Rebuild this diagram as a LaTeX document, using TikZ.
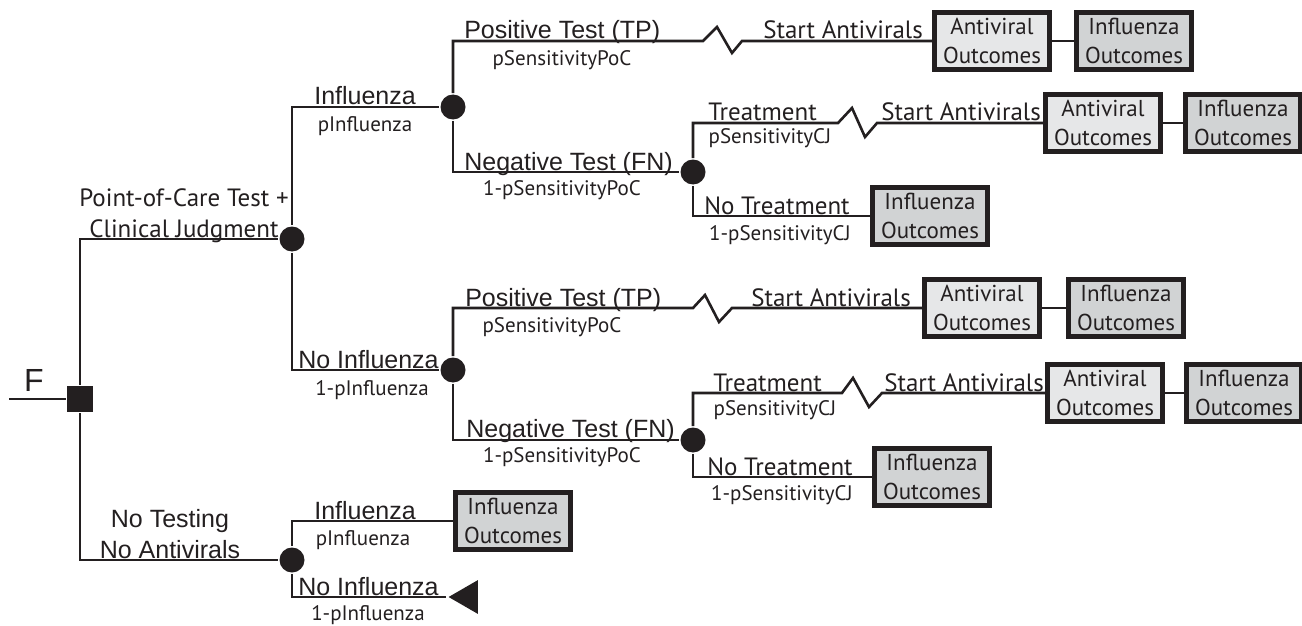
\documentclass[tikz,border=0pt]{standalone}
\usepackage{fontspec}
\setmainfont{PT Sans}
\newfontfamily\arialfont{Liberation Sans}
\usetikzlibrary{shapes.geometric}
\definecolor{ink}{HTML}{231F20}
\definecolor{avfill}{HTML}{E6E7E8}
\definecolor{flufill}{HTML}{D1D3D4}
\newcommand\dotsize{25pt}

\begin{document}
\begin{tikzpicture}[x=1pt,y=-1pt,line width=2.6pt,color=ink,
    chance/.style={circle,fill=ink,inner sep=0pt,minimum size=\dotsize},
    decnode/.style={rectangle,fill=ink,inner sep=0pt,minimum size=26pt},
    endtri/.style={regular polygon,regular polygon sides=3,regular polygon rotate=90,
      fill=ink,inner sep=0pt,minimum size=39pt,anchor=corner 1},
    avbox/.style={draw,line width=5pt,fill=avfill,minimum width=115pt,minimum height=57pt,
      inner sep=0pt,align=center,font=\fontsize{23}{29}\selectfont},
    flubox/.style={avbox,fill=flufill},
    arm/.style={anchor=base west,inner sep=0pt,font=\arialfont\fontsize{25}{31}\selectfont},
    act/.style={anchor=base west,inner sep=0pt,font=\fontsize{25}{31}\selectfont},
    prob/.style={inner sep=0pt,font=\fontsize{21}{25}\selectfont}]
  \useasboundingbox (0,0) rectangle (1302,626);

  % decision and chance nodes
  \coordinate (in) at (9,399);
  \node (D) at (80,399) [decnode] {}; % decision
  \node (C1) at (292,239) [chance] {}; % test + judgment
  \node (C2) at (453,107) [chance] {}; % influenza
  \node (C3) at (693,172) [chance] {}; % negative test
  \node (C4) at (453,370) [chance] {}; % no influenza
  \node (C5) at (693,440) [chance] {}; % negative test
  \node (C6) at (292,560) [chance] {}; % no testing
  \node (T) at (446,597) [endtri] {};

  % outcome boxes
  \node (A1) at (992,41) [avbox] {Antiviral\\Outcomes};
  \node (I1) at (1134,41) [flubox] {Influenza\\Outcomes};
  \node (A2) at (1103,123) [avbox] {Antiviral\\Outcomes};
  \node (I2) at (1243,123) [flubox] {Influenza\\Outcomes};
  \node (N1) at (930,216) [flubox] {Influenza\\Outcomes};
  \node (A3) at (982,308) [avbox] {Antiviral\\Outcomes};
  \node (I3) at (1126,308) [flubox] {Influenza\\Outcomes};
  \node (A4) at (1105,393) [avbox] {Antiviral\\Outcomes};
  \node (I4) at (1244,393) [flubox] {Influenza\\Outcomes};
  \node (N2) at (932,477) [flubox] {Influenza\\Outcomes};
  \node (N3) at (513,521) [flubox] {Influenza\\Outcomes};

  % zigzag starts
  \coordinate (z1) at (703,41);
  \coordinate (z2) at (838,123);
  \coordinate (z3) at (693,308);
  \coordinate (z4) at (842,393);

  % branches
  \draw (in) -- (D);
  \draw (D) |- (C1);
  \draw (D) |- (C6);
  \draw (C1) |- (C2);
  \draw (C1) |- (C4);
  \draw (C2) |- (z1) -- ++(14,-14) -- ++(15,26) -- ++(10,-12) -- (A1);
  \draw (A1) -- (I1);
  \draw (C2) |- (C3);
  \draw (C3) |- (z2) -- ++(14,-15) -- ++(13,29) -- ++(12,-14) -- (A2);
  \draw (A2) -- (I2);
  \draw (C3) |- (N1);
  \draw (C4) |- (z3) -- ++(12,-13) -- ++(14,27) -- ++(13,-14) -- (A3);
  \draw (A3) -- (I3);
  \draw (C4) |- (C5);
  \draw (C5) |- (z4) -- ++(11,-15) -- ++(16,29) -- ++(13,-14) -- (A4);
  \draw (A4) -- (I4);
  \draw (C5) |- (N2);
  \draw (C6) |- (N3);
  \draw (C6) |- (T.corner 1);

  % labels
  \node (lF) at (34,380) [inner sep=0pt,font=\arialfont\fontsize{32}{36}\selectfont] {F};
  \node (lPoC) at (184,216) [inner sep=0pt,align=center,font=\fontsize{25}{31}\selectfont]
    {Point-of-Care Test +\\Clinical Judgment};
  \node (lNoT) at (170,534) [inner sep=0pt,align=center,font=\arialfont\fontsize{25}{31}\selectfont]
    {No Testing\\No Antivirals};

  \node (l1) at (313,105) [arm] {Influenza};
  \node (p1) at (365,126) [prob] {pInfluenza};
  \node (l2) at (297,368) [arm] {No Influenza};
  \node (p2) at (372,390) [prob] {1-pInfluenza};
  \node (l3) at (463,39) [arm] {Positive Test (TP)};
  \node (p3) at (562,60) [prob] {pSensitivityPoC};
  \node (l4) at (463,170) [arm] {Negative Test (FN)};
  \node (p4) at (562,190) [prob] {1-pSensitivityPoC};
  \node (l5) at (464,306) [arm] {Positive Test (TP)};
  \node (p5) at (552,327) [prob] {pSensitivityPoC};
  \node (l6) at (465,437) [arm] {Negative Test (FN)};
  \node (p6) at (562,457) [prob] {1-pSensitivityPoC};
  \node (l7) at (313,519) [arm] {Influenza};
  \node (p7) at (363,540) [prob] {pInfluenza};
  \node (l8) at (297,595) [arm] {No Influenza};
  \node (p8) at (368,615) [prob] {1-pInfluenza};

  \node (t1) at (707,121) [act] {Treatment};
  \node (q1) at (770,138) [prob] {pSensitivityCJ};
  \node (t2) at (703,214) [act] {No Treatment};
  \node (q2) at (780,235) [prob] {1-pSensitivityCJ};
  \node (t3) at (712,391) [act] {Treatment};
  \node (q3) at (775,410) [prob] {pSensitivityCJ};
  \node (t4) at (706,475) [act] {No Treatment};
  \node (q4) at (782,495) [prob] {1-pSensitivityCJ};

  \node (s1) at (762,39) [act] {Start Antivirals};
  \node (s2) at (880,121) [act] {Start Antivirals};
  \node (s3) at (750,306) [act] {Start Antivirals};
  \node (s4) at (883,391) [act] {Start Antivirals};
\end{tikzpicture}
\end{document}
